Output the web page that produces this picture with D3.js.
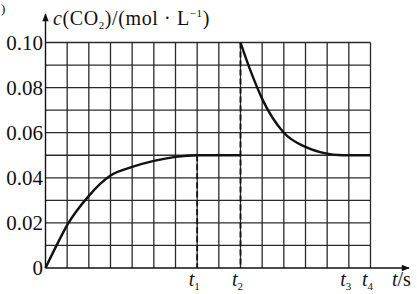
<!DOCTYPE html>
<html>
<head>
<meta charset="utf-8">
<script src="https://cdn.jsdelivr.net/npm/d3@7"></script>
<style>
  body { margin: 0; background: #fff; }
  text { font-family: "Liberation Serif", "DejaVu Serif", serif; fill: #111; }
</style>
</head>
<body>
<div id="chart"></div>
<script>
const width = 417;
const height = 294;

// curve (t in grid columns, c in mol/L)
const rise_t = [0, 0.5, 1, 2, 3, 4, 5, 6, 7, 9];
const rise_c = [0, 0.0098, 0.019, 0.032, 0.041, 0.0448, 0.0475, 0.0493, 0.05, 0.05];
const fall_t = [9, 9.5, 10, 11, 12, 13, 13.5, 14, 15];
const fall_c = [0.10, 0.0865, 0.075, 0.06, 0.0537, 0.0507, 0.0501, 0.05, 0.05];

const y_ticks = [0, 0.02, 0.04, 0.06, 0.08, 0.10];
const y_labels = ['0', '0.02', '0.04', '0.06', '0.08', '0.10'];
const x_marks = [7, 9, 14, 15];
const x_labels = ['1', '2', '3', '4'];
const dashed = [{ t: 7, c: 0.05 }, { t: 9, c: 0.10 }];

const x_scale = d3.scaleLinear().domain([0, 15]).range([45.5, 370.5]);
const y_scale = d3.scaleLinear().domain([0, 0.10]).range([268, 42.5]);

const svg = d3.select('#chart')
  .append('svg')
    .attr('width', width)
    .attr('height', height);

// grid
svg.append('g')
  .selectAll('line')
  .data(d3.range(1, 16))
  .join('line')
    .attr('x1', d => x_scale(d)).attr('x2', d => x_scale(d))
    .attr('y1', y_scale(0)).attr('y2', y_scale(0.10))
    .attr('stroke', '#2a2a2a').attr('stroke-width', 1.3);
svg.append('g')
  .selectAll('line')
  .data(d3.range(1, 11).map(i => i / 100))
  .join('line')
    .attr('x1', x_scale(0)).attr('x2', x_scale(15))
    .attr('y1', d => y_scale(d)).attr('y2', d => y_scale(d))
    .attr('stroke', '#2a2a2a').attr('stroke-width', 1.3);

// axes with arrows
svg.append('defs').append('marker')
    .attr('id', 'arrow')
    .attr('viewBox', '0 0 10 10')
    .attr('refX', 9).attr('refY', 5)
    .attr('markerWidth', 10).attr('markerHeight', 8)
    .attr('markerUnits', 'userSpaceOnUse')
    .attr('orient', 'auto')
  .append('path')
    .attr('d', 'M0,1 L10,5 L0,9 Z')
    .attr('fill', '#111');
svg.append('line')
    .attr('x1', x_scale(0)).attr('x2', 409)
    .attr('y1', y_scale(0)).attr('y2', y_scale(0))
    .attr('stroke', '#111').attr('stroke-width', 1.4)
    .attr('marker-end', 'url(#arrow)');
svg.append('line')
    .attr('x1', x_scale(0)).attr('x2', x_scale(0))
    .attr('y1', y_scale(0)).attr('y2', 14)
    .attr('stroke', '#111').attr('stroke-width', 1.4)
    .attr('marker-end', 'url(#arrow)');

// dashed drop lines
svg.append('g')
  .selectAll('line')
  .data(dashed)
  .join('line')
    .attr('x1', d => x_scale(d.t)).attr('x2', d => x_scale(d.t))
    .attr('y1', d => y_scale(d.c)).attr('y2', y_scale(0))
    .attr('stroke', '#111').attr('stroke-width', 1.8)
    .attr('stroke-dasharray', '6,3');

// curves
const line = d3.line()
  .x(d => x_scale(d[0]))
  .y(d => y_scale(d[1]))
  .curve(d3.curveMonotoneX);
svg.append('path')
    .attr('d', line(d3.zip(rise_t, rise_c)))
    .attr('fill', 'none').attr('stroke', '#111').attr('stroke-width', 2.4);
svg.append('path')
    .attr('d', line(d3.zip(fall_t, fall_c)))
    .attr('fill', 'none').attr('stroke', '#111').attr('stroke-width', 2.4);

// y tick labels
svg.append('g')
  .selectAll('text')
  .data(y_ticks)
  .join('text')
    .attr('x', 43)
    .attr('y', d => y_scale(d) + 7)
    .attr('text-anchor', 'end')
    .attr('font-size', 21)
    .text((d, i) => y_labels[i]);

// x tick labels
const xl = svg.append('g')
  .selectAll('text')
  .data(x_marks)
  .join('text')
    .attr('x', d => x_scale(d) - 3)
    .attr('y', 286)
    .attr('text-anchor', 'middle')
    .attr('font-size', 20);
xl.append('tspan').attr('font-style', 'italic').text('t');
xl.append('tspan').attr('font-size', 11).attr('dy', 4).text((d, i) => x_labels[i]);

// axis titles
svg.append('text')
    .attr('x', 392).attr('y', 286)
    .attr('font-size', 20)
  .call(t => {
    t.append('tspan').attr('font-style', 'italic').text('t');
    t.append('tspan').text('/s');
  });

const yt = svg.append('text')
    .attr('x', 53).attr('y', 25)
    .attr('font-size', 20)
    .attr('letter-spacing', 0.6);
yt.append('tspan').attr('font-style', 'italic').text('c');
yt.append('tspan').text('(CO');
yt.append('tspan').attr('font-size', 11).attr('dy', 4).text('2');
yt.append('tspan').attr('dy', -4).text(')/(mol · L');
yt.append('tspan').attr('font-size', 11).attr('dy', -8).text('−1');
yt.append('tspan').attr('dy', 8).text(')');

svg.append('text')
    .attr('x', 1).attr('y', 13)
    .attr('font-size', 13)
    .text(')');
</script>
</body>
</html>
